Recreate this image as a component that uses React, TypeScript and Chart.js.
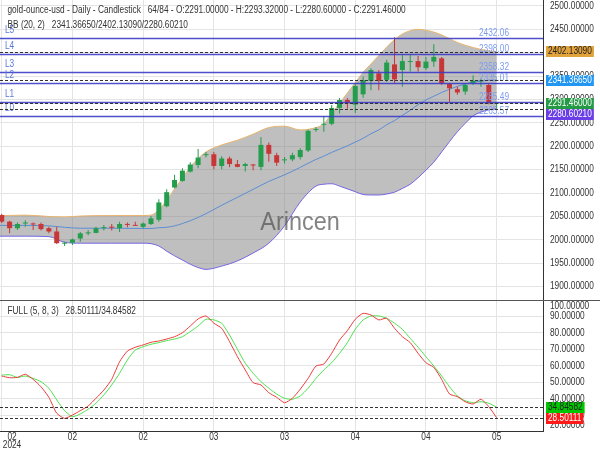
import React, { useEffect, useRef } from "react";
import { Chart, registerables } from "chart.js";
Chart.register(...registerables);

// ---------- data ----------
const tickIndices = [0, 9, 18, 27, 36, 45, 54, 63];
const tickLabels = ["02", "02", "02", "03", "03", "04", "04", "05"];
const yearLabel = "2024";

const opens = [2053, 2039, 2025, 2035, 2034, 2034, 2025, 2018, 1992, 1994, 2003, 2014, 2015, 2025, 2027, 2025, 2033, 2031, 2028, 2034, 2043, 2072, 2112, 2126, 2146, 2160, 2181, 2183, 2158, 2174, 2162, 2158, 2160, 2156, 2203, 2181, 2170, 2172, 2177, 2191, 2235, 2246, 2248, 2282, 2299, 2289, 2311, 2340, 2356, 2342, 2375, 2363, 2380, 2382, 2367, 2381, 2388, 2333, 2322, 2317, 2335, 2339, 2331, 2291];
const highs = [2056, 2041, 2037, 2042, 2037, 2037, 2028, 2028, 1996, 2003, 2017, 2021, 2028, 2032, 2034, 2039, 2037, 2039, 2037, 2051, 2087, 2108, 2139, 2153, 2166, 2194, 2188, 2188, 2179, 2178, 2171, 2165, 2162, 2220, 2208, 2186, 2177, 2186, 2196, 2236, 2241, 2265, 2288, 2303, 2303, 2335, 2349, 2367, 2363, 2385, 2433, 2397, 2397, 2393, 2391, 2418, 2391, 2335, 2327, 2335, 2352, 2345, 2335, 2293.32];
const lows = [2036, 2014, 2021, 2028, 2021, 2020, 2014, 1991, 1987, 1989, 1996, 2010, 2014, 2020, 2020, 2017, 2027, 2030, 2025, 2032, 2039, 2070, 2110, 2124, 2144, 2153, 2176, 2151, 2151, 2155, 2155, 2146, 2149, 2149, 2167, 2158, 2163, 2168, 2172, 2188, 2231, 2231, 2245, 2270, 2281, 2271, 2303, 2320, 2320, 2338, 2335, 2327, 2360, 2360, 2363, 2370, 2331, 2295, 2310, 2310, 2331, 2327, 2290, 2280.6];
const closes = [2039, 2025, 2034, 2036, 2033, 2023, 2018, 1993, 1994, 2001, 2014, 2016, 2025, 2027, 2026, 2034, 2032, 2030, 2035, 2046, 2080, 2102, 2128, 2148, 2161, 2176, 2183, 2158, 2174, 2162, 2156, 2162, 2159, 2203, 2184, 2165, 2172, 2181, 2192, 2233, 2237, 2248, 2282, 2299, 2292, 2329, 2341, 2363, 2340, 2379, 2343, 2382, 2381.5, 2369, 2381, 2391, 2335, 2324, 2315, 2331, 2340, 2340, 2293, 2291.46];

const bandIdx = [-1, 0, 3, 6, 8, 10, 14, 18, 19, 20, 21, 22, 23, 24, 25, 26, 28, 30, 32, 34, 36, 38, 40, 41, 42, 43, 44, 45, 46, 47, 48, 49, 50, 51, 52, 53, 54, 55, 56, 57, 58, 59, 60, 61, 62, 63];
const bbUpper = [2052, 2052, 2053, 2050, 2049, 2051, 2052, 2052, 2053, 2064, 2085, 2109, 2132, 2156, 2174, 2188, 2203, 2213, 2226, 2240, 2243, 2235, 2240, 2248, 2270, 2292, 2314, 2336, 2358, 2376, 2394, 2412, 2428, 2440, 2447, 2450, 2448, 2444, 2438, 2430, 2422, 2416, 2411, 2407, 2404, 2402.13];
const bbLower = [2008, 2008, 2008, 2007, 1995, 1993, 1993, 1993, 1992, 1987, 1976, 1966, 1957, 1948, 1941, 1937, 1944, 1955, 1972, 1993, 2030, 2081, 2115, 2119, 2120, 2115, 2109, 2103, 2097, 2096, 2096, 2098, 2102, 2110, 2119, 2133, 2149, 2166, 2188, 2210, 2231, 2249, 2265, 2273, 2278, 2280.6];
const bbMiddle = [2031, 2031, 2031, 2030, 2027, 2025, 2025, 2024.5, 2024.5, 2026, 2027, 2030, 2035, 2041, 2048, 2056, 2074, 2091, 2108, 2125, 2139, 2155, 2172, 2179, 2187, 2194, 2201, 2209, 2217, 2227, 2235, 2246, 2255, 2266, 2277, 2289, 2299, 2307, 2315, 2322, 2328, 2333, 2337, 2339, 2341, 2341.37];

const levelValues = [2432.06, 2398.0, 2358.32, 2335.01, 2295.3, 2265.57];
const levelNames = ["L5", "L4", "L3", "L2", "L1", "L0"];
const levelTexts = ["2432.06", "2398.00", "2358.32", "2335.01", "2285.49", "2265.57"];

const priceMarkValues = [2402.1309, 2341.3665, 2291.46, 2280.6021];
const priceMarkTexts = ["2402.13090", "2341.36650", "2291.46000", "2280.60210"];
const priceMarkBg = ["#e2a23c", "#2196f3", "#249a45", "#6a3de6"];
const priceMarkFg = ["#222222", "#ffffff", "#ffffff", "#ffffff"];

const stochK = [53.8, 52.8, 53.0, 54.9, 51.8, 47.3, 40.9, 31.2, 28.1, 30.1, 32.8, 35.6, 40.3, 45.3, 51.8, 62.5, 69.0, 71.3, 72.7, 74.3, 75.1, 76.3, 77.7, 80.1, 84.2, 88.5, 90.3, 85.9, 82.8, 74.7, 65.6, 57.5, 49.8, 48.4, 43.7, 40.9, 37.6, 40.3, 45.8, 52.4, 59.9, 61.1, 67.6, 75.7, 81.4, 88.3, 91.9, 90.9, 87.9, 88.9, 82.8, 77.7, 74.1, 67.6, 61.9, 59.1, 51.8, 42.9, 41.3, 38.2, 36.8, 39.7, 35.2, 28.50111];
const stochD = [54.4, 54.6, 53.0, 53.8, 52.4, 50.4, 46.4, 39.3, 32.8, 29.1, 30.8, 33.6, 37.3, 42.3, 48.4, 55.5, 63.6, 69.6, 71.6, 73.1, 74.1, 75.3, 76.3, 77.7, 80.8, 84.2, 88.3, 87.9, 85.9, 78.7, 70.1, 61.6, 55.5, 50.4, 46.4, 42.9, 40.3, 39.7, 41.7, 46.4, 52.4, 57.5, 61.9, 67.6, 74.1, 82.2, 87.9, 90.3, 90.3, 88.9, 85.9, 82.2, 76.7, 71.3, 65.6, 59.9, 53.8, 47.3, 41.7, 38.8, 37.6, 38.2, 37.3, 34.84582];

const stochMarkValues = [34.84582, 28.50111];
const stochMarkTexts = ["34.84582", "28.50111"];
const stochMarkBg = ["#00c800", "#ff1a1a"];
const stochMarkFg = ["#222222", "#ffffff"];

const titleMain = "gold-ounce-usd - Daily - Candlestick   64/84 - O:2291.00000 - H:2293.32000 - L:2280.60000 - C:2291.46000";
const titleBB = "BB (20, 2)   2341.36650/2402.13090/2280.60210";
const titleStoch = "FULL (5, 8, 3)   28.50111/34.84582";
const watermark = "Arincen";

// ---------- styling ----------
const X_MIN = -0.22;
const X_MAX = 68.9;
const Y_MIN = 1871.6;
const Y_MAX = 2512.6;
const GRID = "#e4e4e4";
const GREEN = "#249d4c";
const RED = "#c83737";
const FONT = '"Liberation Sans", Arial, sans-serif';
const SX = 0.83;

function txt(ctx: CanvasRenderingContext2D, s: string, x: number, y: number, align: string, size: number, color: string, sx: number = SX) {
  ctx.save();
  ctx.font = `${size}px ${FONT}`;
  ctx.fillStyle = color;
  ctx.textBaseline = "middle";
  ctx.textAlign = "left";
  const w = ctx.measureText(s).width * sx;
  const x0 = align === "left" ? x : align === "right" ? x - w : x - w / 2;
  ctx.translate(x0, y);
  ctx.scale(sx, 1);
  ctx.fillText(s, 0, 0);
  ctx.restore();
  return w;
}

function hline(ctx: CanvasRenderingContext2D, x1: number, x2: number, y: number, color: string, width: number, dash: number[]) {
  ctx.save();
  ctx.strokeStyle = color;
  ctx.lineWidth = width;
  ctx.setLineDash(dash);
  ctx.beginPath();
  ctx.moveTo(x1, y);
  ctx.lineTo(x2, y);
  ctx.stroke();
  ctx.restore();
}

function drawMarks(ctx: CanvasRenderingContext2D, scale: any, values: number[], texts: string[], bg: string[], fg: string[], left: number) {
  const items = values.map((v, i) => ({ y: scale.getPixelForValue(v), i }));
  items.sort((a, b) => a.y - b.y);
  const h = 11;
  let prev = -1000;
  items.forEach((it) => {
    let y = it.y;
    if (y < prev + h) y = prev + h;
    prev = y;
    ctx.save();
    ctx.font = `10px ${FONT}`;
    const w = ctx.measureText(texts[it.i]).width * SX;
    ctx.fillStyle = bg[it.i];
    ctx.fillRect(left, Math.round(y - h / 2), w + 4, h);
    ctx.restore();
    txt(ctx, texts[it.i], left + 2, y, "left", 10, fg[it.i]);
  });
}

const idxs = opens.map((_, i) => i);
const candleColors = idxs.map((i) => (closes[i] >= opens[i] ? GREEN : RED));

const mainPlugin = {
  id: "mainDecor",
  afterDatasetsDraw(chart: any) {
    const ctx: CanvasRenderingContext2D = chart.ctx;
    const a = chart.chartArea;
    const ys = chart.scales.y;
    ctx.save();
    ctx.beginPath();
    ctx.rect(a.left, a.top, a.right - a.left, a.bottom - a.top);
    ctx.clip();
    txt(ctx, watermark, 300, 223, "center", 26, "rgba(85,85,85,0.72)", 0.9);
    levelValues.forEach((v, i) => {
      const y = Math.round(ys.getPixelForValue(v)) + 0.5;
      hline(ctx, a.left, a.right, y, "rgba(60,60,200,0.9)", 1.5, []);
      txt(ctx, levelNames[i], 5, y - 8.5, "left", 10, "#5a78dc");
      txt(ctx, levelTexts[i], 509, y - 5.5, "right", 10, "#7d9cf0");
    });
    priceMarkValues.forEach((v) => {
      const y = Math.round(ys.getPixelForValue(v)) + 0.5;
      hline(ctx, a.left, a.right, y, "#333333", 1, [3, 2]);
    });
    ctx.restore();
    ys.ticks.forEach((t: any) => {
      const y = ys.getPixelForValue(t.value);
      txt(ctx, t.value.toFixed(5), 550, y, "left", 10, "#333333");
    });
    drawMarks(ctx, ys, priceMarkValues, priceMarkTexts, priceMarkBg, priceMarkFg, 546);
    txt(ctx, titleMain, 7.5, 10.5, "left", 10, "#333333");
    txt(ctx, titleBB, 7.5, 25, "left", 10, "#333333");
  },
};

const stochPlugin = {
  id: "stochDecor",
  afterDatasetsDraw(chart: any) {
    const ctx: CanvasRenderingContext2D = chart.ctx;
    const a = chart.chartArea;
    const ys = chart.scales.y;
    const xs = chart.scales.x;
    stochMarkValues.forEach((v) => {
      const y = Math.round(ys.getPixelForValue(v)) + 0.5;
      hline(ctx, a.left, a.right, y, "#333333", 1, [3, 2]);
    });
    hline(ctx, 0, chart.width, 0.5, "#555555", 1, []);
    ys.ticks.forEach((t: any) => {
      let y = ys.getPixelForValue(t.value);
      y = Math.max(a.top + 6.5, Math.min(a.bottom - 6.5, y));
      txt(ctx, t.value.toFixed(5), 550, y, "left", 10, "#333333");
    });
    drawMarks(ctx, ys, stochMarkValues, stochMarkTexts, stochMarkBg, stochMarkFg, 546);
    txt(ctx, titleStoch, 7.5, 11.5, "left", 10, "#333333");
    tickIndices.forEach((v, i) => {
      const px = Math.max(xs.getPixelForValue(v), 12);
      txt(ctx, tickLabels[i], px, a.bottom + 5.5, "center", 10, "#333333");
      if (i === 0) txt(ctx, yearLabel, px, a.bottom + 13.5, "center", 10, "#333333");
    });
  },
};

function xScale(height: number, border: boolean) {
  return {
    type: "linear",
    min: X_MIN,
    max: X_MAX,
    offset: false,
    afterBuildTicks: (s: any) => {
      s.ticks = tickIndices.map((v) => ({ value: v }));
    },
    afterFit: (s: any) => {
      s.height = height;
    },
    ticks: { display: false },
    grid: { color: GRID, drawTicks: false, offset: false },
    border: { display: border, color: "#333333", width: 1 },
  };
}

export default function App() {
  const mainRef = useRef<HTMLCanvasElement>(null);
  const stochRef = useRef<HTMLCanvasElement>(null);

  useEffect(() => {
    const main = new Chart(mainRef.current as HTMLCanvasElement, {
      type: "bar",
      data: {
        datasets: [
          {
            type: "bar",
            label: "body",
            data: idxs.map((i) => ({ x: i, y: [opens[i], closes[i]] })),
            backgroundColor: candleColors,
            borderWidth: 0,
            barThickness: 5,
            grouped: false,
            minBarLength: 1,
            inflateAmount: 0,
            order: 0,
          },
          {
            type: "bar",
            label: "wick",
            data: idxs.map((i) => ({ x: i, y: [lows[i], highs[i]] })),
            backgroundColor: candleColors,
            borderWidth: 0,
            barThickness: 1,
            grouped: false,
            inflateAmount: 0,
            order: 1,
          },
          {
            type: "line",
            label: "upper",
            data: bandIdx.map((x, k) => ({ x, y: bbUpper[k] })),
            borderColor: "#e8b46c",
            borderWidth: 1,
            pointRadius: 0,
            cubicInterpolationMode: "monotone",
            fill: { target: 3 },
            backgroundColor: "rgba(128,128,128,0.5)",
            order: 5,
          },
          {
            type: "line",
            label: "lower",
            data: bandIdx.map((x, k) => ({ x, y: bbLower[k] })),
            borderColor: "#7465e4",
            borderWidth: 1,
            pointRadius: 0,
            cubicInterpolationMode: "monotone",
            fill: false,
            order: 4,
          },
          {
            type: "line",
            label: "middle",
            data: bandIdx.map((x, k) => ({ x, y: bbMiddle[k] })),
            borderColor: "#5a8dd4",
            borderWidth: 1,
            pointRadius: 0,
            cubicInterpolationMode: "monotone",
            fill: false,
            order: 3,
          },
        ],
      } as any,
      options: {
        responsive: false,
        animation: false,
        devicePixelRatio: 1,
        layout: { padding: 0 },
        plugins: { legend: { display: false }, tooltip: { enabled: false } },
        scales: {
          x: xScale(0, false),
          y: {
            type: "linear",
            position: "right",
            min: Y_MIN,
            max: Y_MAX,
            beginAtZero: false,
            afterFit: (s: any) => {
              s.width = 57;
            },
            ticks: { display: false, stepSize: 50, includeBounds: false },
            grid: { color: GRID, drawTicks: false },
            border: { display: true, color: "#333333", width: 1 },
          },
        },
      } as any,
      plugins: [mainPlugin],
    });

    const stoch = new Chart(stochRef.current as HTMLCanvasElement, {
      type: "line",
      data: {
        datasets: [
          {
            label: "K",
            data: idxs.map((i) => ({ x: i, y: stochK[i] })),
            borderColor: "#ec3b3b",
            borderWidth: 1,
            pointRadius: 0,
            tension: 0.2,
          },
          {
            label: "D",
            data: idxs.map((i) => ({ x: i, y: stochD[i] })),
            borderColor: "#4fe04f",
            borderWidth: 1,
            pointRadius: 0,
            tension: 0.2,
          },
        ],
      } as any,
      options: {
        responsive: false,
        animation: false,
        devicePixelRatio: 1,
        layout: { padding: 0 },
        plugins: { legend: { display: false }, tooltip: { enabled: false } },
        scales: {
          x: xScale(18.3, true),
          y: {
            type: "linear",
            position: "right",
            min: 20,
            max: 100,
            afterFit: (s: any) => {
              s.width = 57;
            },
            ticks: { display: false, stepSize: 10, includeBounds: false },
            grid: { color: GRID, drawTicks: false },
            border: { display: true, color: "#333333", width: 1 },
          },
        },
      } as any,
      plugins: [stochPlugin],
    });

    return () => {
      main.destroy();
      stoch.destroy();
    };
  }, []);

  return (
    <div style={{ position: "absolute", left: 0, top: 0, width: 600, height: 450, background: "#ffffff", overflow: "hidden" }}>
      <canvas ref={mainRef} width={600} height={300} style={{ display: "block", width: 600, height: 300 }} />
      <canvas ref={stochRef} width={600} height={150} style={{ display: "block", width: 600, height: 150 }} />
    </div>
  );
}
